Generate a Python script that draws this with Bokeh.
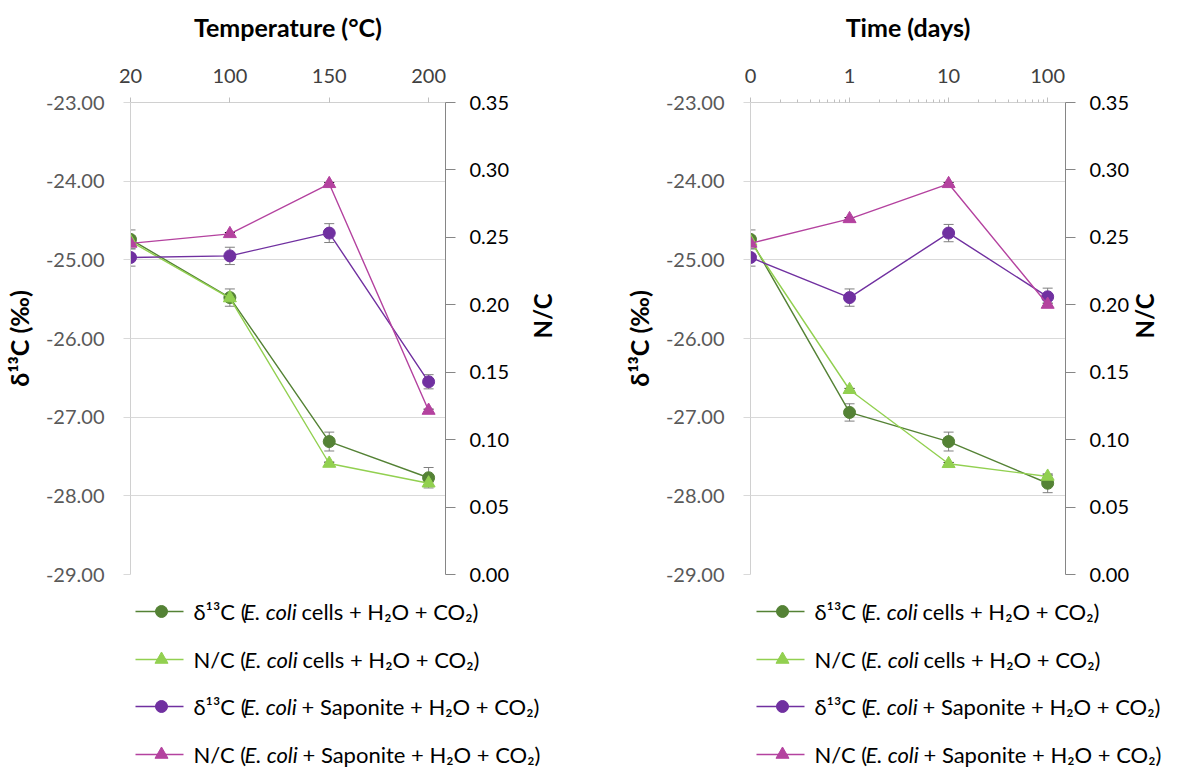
import math
from bokeh.plotting import figure
from bokeh.models import (Range1d, LinearAxis, FixedTicker, NumeralTickFormatter,
                          Whisker, TeeHead, ColumnDataSource)
from bokeh.layouts import row, column
from bokeh.embed import file_html
from bokeh.resources import INLINE
from bokeh.core.properties import value

# ---------------- data ----------------
temperatures = ["20", "100", "150", "200"]
days_labels = ["0", "1", "10", "100"]
days_pos = [0.1, 1, 10, 100]          # day 0 shown at the left end of the log axis

# Temperature series
d13c_cells_T = [-24.74, -25.48, -27.31, -27.77]
d13c_cells_T_err = [0.12, 0.11, 0.12, 0.13]
nc_cells_T = [0.247, 0.205, 0.0823, 0.0677]
d13c_sap_T = [-24.97, -24.95, -24.66, -26.55]
d13c_sap_T_err = [0.11, 0.11, 0.12, 0.09]
nc_sap_T = [0.2455, 0.2526, 0.2897, 0.1216]

# Time series
d13c_cells_t = [-24.74, -26.94, -27.31, -27.84]
d13c_cells_t_err = [0.12, 0.11, 0.12, 0.12]
nc_cells_t = [0.247, 0.137, 0.0821, 0.0727]
d13c_sap_t = [-24.97, -25.48, -24.66, -25.47]
d13c_sap_t_err = [0.11, 0.11, 0.11, 0.11]
nc_sap_t = [0.2455, 0.2637, 0.2897, 0.2002]

nc_err = [0.001, 0.001, 0.001, 0.001]

left_ticks = [-29, -28, -27, -26, -25, -24, -23]
right_ticks = [0.0, 0.05, 0.10, 0.15, 0.20, 0.25, 0.30, 0.35]

legend_prefix = ["δ¹³C (", "N/C (", "δ¹³C (", "N/C ("]
legend_italic = ["E. coli", "E. coli", "E. coli", "E. coli"]
legend_suffix = ["cells + H₂O + CO₂)", "cells + H₂O + CO₂)",
                 "+ Saponite + H₂O + CO₂)", "+ Saponite + H₂O + CO₂)"]

# ---------------- styles ----------------
C_DG = "#548235"
C_LG = "#92d050"
C_PU = "#7030a0"
C_MA = "#b4429f"
series_colors = [C_DG, C_LG, C_PU, C_MA]
series_markers = ["circle", "triangle", "circle", "triangle"]
FONT = "Lato"

BT = 102         # top border -> frame top
FRAME_H = 472
FIG_H = 590
LEG_H = 178


def style_common(p, right_title_standoff):
    p.outline_line_color = None
    p.xgrid.visible = False
    p.background_fill_color = "white"
    p.border_fill_color = "white"
    p.frame_align = False

    ax = p.above[0]
    ax.major_tick_out = 5
    ax.major_tick_in = 0
    ax.major_tick_line_color = "#bfbfbf"
    ax.axis_line_color = "#d0d0d0"
    ax.major_label_text_font = FONT
    ax.major_label_text_font_size = "20px"
    ax.major_label_text_color = "#404040"
    ax.major_label_standoff = 15
    ax.axis_label_text_font = FONT
    ax.axis_label_text_font_size = "25px"
    ax.axis_label_text_font_style = "bold"
    ax.axis_label_text_color = "#000000"
    ax.axis_label_standoff = 24

    ly = p.left[0]
    ly.ticker = FixedTicker(ticks=left_ticks)
    ly.formatter = NumeralTickFormatter(format="0.00")
    ly.major_tick_out = 7
    ly.major_tick_in = 0
    ly.minor_tick_out = 0
    ly.minor_tick_in = 0
    ly.major_tick_line_color = "#d9d9d9"
    ly.axis_line_color = "#d0d0d0"
    ly.major_label_text_font = FONT
    ly.major_label_text_font_size = "20px"
    ly.major_label_text_color = "#595959"
    ly.major_label_standoff = 19
    ly.axis_label = "δ¹³C (‰)"
    ly.axis_label_text_font = FONT
    ly.axis_label_text_font_size = "25px"
    ly.axis_label_text_font_style = "bold"
    ly.axis_label_text_color = "#000000"
    ly.axis_label_standoff = 9

    p.ygrid.ticker = FixedTicker(ticks=left_ticks)
    p.ygrid.grid_line_color = "#d9d9d9"
    p.ygrid.grid_line_width = 1

    p.extra_y_ranges = {"nc": Range1d(0, 0.35)}
    ry = LinearAxis(y_range_name="nc")
    ry.ticker = FixedTicker(ticks=right_ticks)
    ry.formatter = NumeralTickFormatter(format="0.00")
    ry.major_tick_out = 10
    ry.major_tick_in = 0
    ry.minor_tick_out = 0
    ry.minor_tick_in = 0
    ry.major_tick_line_color = "#868686"
    ry.axis_line_color = "#868686"
    ry.major_label_text_font = FONT
    ry.major_label_text_font_size = "20px"
    ry.major_label_text_color = "#000000"
    ry.major_label_standoff = 14
    ry.axis_label = "N/C"
    ry.axis_label_text_font = FONT
    ry.axis_label_text_font_size = "24px"
    ry.axis_label_text_font_style = "bold"
    ry.axis_label_text_color = "#000000"
    ry.axis_label_standoff = right_title_standoff
    ry.axis_label_orientation = math.pi / 2
    p.add_layout(ry, "right")


def add_series(p, xs, d1, e1, n1, d2, e2, n2):
    ys_list = [d1, n1, d2, n2]
    errs = [e1, nc_err, e2, nc_err]
    ranges = ["default", "nc", "default", "nc"]
    for i in range(4):
        ys = ys_list[i]
        src = ColumnDataSource(dict(
            x=xs, y=ys,
            upper=[y + e for y, e in zip(ys, errs[i])],
            lower=[y - e for y, e in zip(ys, errs[i])]))
        wc = "#7f7f7f" if ranges[i] == "default" else "#000000"
        w = Whisker(source=src, base="x", upper="upper", lower="lower",
                    dimension="height", line_color=wc, line_width=1,
                    upper_head=TeeHead(size=10, line_color=wc, line_width=1),
                    lower_head=TeeHead(size=10, line_color=wc, line_width=1),
                    y_range_name=ranges[i])
        p.add_layout(w)
    for i in range(4):
        ys = ys_list[i]
        src = ColumnDataSource(dict(x=xs, y=ys))
        p.line("x", "y", source=src, line_color=series_colors[i], line_width=1.4,
               y_range_name=ranges[i])
        p.scatter("x", "y", source=src, marker=series_markers[i],
                  size=12 if series_markers[i] == "circle" else 13,
                  fill_color=series_colors[i], line_color=series_colors[i],
                  y_range_name=ranges[i])


# ---------------- left panel: temperature ----------------
W1 = 596
BL1 = 129
temp_idx = list(range(len(temperatures)))
p1 = figure(width=W1, height=FIG_H, x_range=Range1d(0, 3.17), y_range=Range1d(-29, -23),
            x_axis_location="above", y_axis_location="left",
            toolbar_location=None, output_backend="svg",
            min_border_left=BL1, min_border_right=W1 - BL1 - 316,
            min_border_top=BT, min_border_bottom=FIG_H - BT - FRAME_H)
style_common(p1, 30)
ax1 = p1.above[0]
ax1.ticker = FixedTicker(ticks=temp_idx)
ov1 = {}
for i, t in zip(temp_idx, temperatures):
    ov1[i] = t
    ov1[str(i)] = t
ax1.major_label_overrides = ov1
ax1.minor_tick_out = 0
ax1.axis_label = "Temperature (°C)"
add_series(p1, temp_idx, d13c_cells_T, d13c_cells_T_err, nc_cells_T,
           d13c_sap_T, d13c_sap_T_err, nc_sap_T)

# ---------------- right panel: time ----------------
W2 = 582
BL2 = 154
FW2 = 315
p2 = figure(width=W2, height=FIG_H, x_range=Range1d(0.1, 10 ** 2.18), y_range=Range1d(-29, -23),
            x_axis_type="log", x_axis_location="above", y_axis_location="left",
            toolbar_location=None, output_backend="svg",
            min_border_left=BL2, min_border_right=W2 - BL2 - FW2,
            min_border_top=BT, min_border_bottom=FIG_H - BT - FRAME_H)
style_common(p2, 12)
ax2 = p2.above[0]
minor = [k * 10.0 ** e for e in (-1, 0, 1, 2) for k in range(2, 10)]
ax2.ticker = FixedTicker(ticks=days_pos, minor_ticks=minor)
ov2 = {}
for d, lab in zip(days_pos, days_labels):
    ov2[float(d)] = lab
    ov2[str(d)] = lab
ax2.major_label_overrides = ov2
ax2.minor_tick_out = 3
ax2.minor_tick_in = 0
ax2.minor_tick_line_color = "#bfbfbf"
ax2.axis_label = "Time (days)"
add_series(p2, days_pos, d13c_cells_t, d13c_cells_t_err, nc_cells_t,
           d13c_sap_t, d13c_sap_t_err, nc_sap_t)


# ---------------- legends ----------------
def make_legend(W, FL):
    lg = figure(width=W, height=LEG_H, x_range=Range1d(0, W), y_range=Range1d(LEG_H, 0),
                x_axis_location=None, y_axis_location=None,
                toolbar_location=None, output_backend="svg",
                min_border=0)
    lg.outline_line_color = None
    lg.grid.visible = False
    lg.frame_align = False
    rows_y = [21, 69, 116, 164]
    ital_off = [114, 115, 114, 115]
    for i in range(4):
        y = rows_y[i]
        lg.segment(x0=[FL + 6], y0=[y], x1=[FL + 54], y1=[y],
                   line_color=series_colors[i], line_width=1.4)
        lg.scatter(x=[FL + 32], y=[y], marker=series_markers[i],
                   size=12 if series_markers[i] == "circle" else 13,
                   fill_color=series_colors[i], line_color=series_colors[i])
        common = dict(text_font=value(FONT), text_font_size="22px",
                      text_baseline="middle", text_align="left", text_color="#000000")
        lg.text(x=[FL + 64], y=[y], text=[legend_prefix[i]], **common)
        lg.text(x=[FL + ital_off[i]], y=[y], text=[legend_italic[i]],
                text_font_style="italic", **common)
        lg.text(x=[FL + ital_off[i] + 58], y=[y], text=[legend_suffix[i]], **common)
    return lg


lg1 = make_legend(W1, BL1)
lg2 = make_legend(W2, BL2)

layout = row(column(p1, lg1), column(p2, lg2))
open("out.html", "w").write(file_html(layout, INLINE))
